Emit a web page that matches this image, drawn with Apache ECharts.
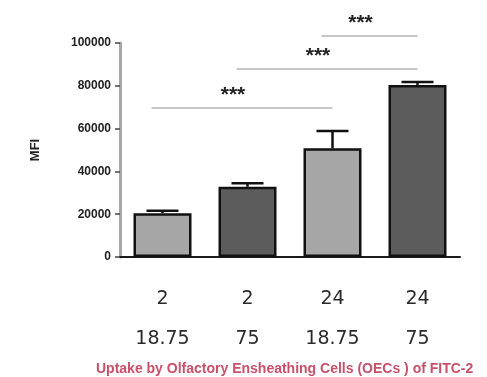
<!DOCTYPE html>
<html>
<head>
<meta charset="utf-8">
<style>
  html, body { margin: 0; padding: 0; background: #fff; }
  #chart { width: 487px; height: 377px; }
</style>
<script src="https://cdn.jsdelivr.net/npm/echarts@6/dist/echarts.min.js"></script>
</head>
<body>
<div id="chart"></div>
<script>
// Incubation time (h) and concentration for each group
const hours = ['2', '2', '24', '24'];
const doses = ['18.75', '75', '18.75', '75'];
// Mean fluorescence intensity and upper error (SEM)
const mfi = [20500, 32800, 50800, 80400];
const mfiErr = [1100, 1700, 8100, 1400];
// Significance brackets: [from group, to group, height], with their labels
const brackets = [[0, 2, 69600], [1, 3, 87900], [2, 3, 103300]];
const bracketLabels = ['***', '***', '***'];
const yTicks = [0, 20000, 40000, 60000, 80000, 100000];
const caption = 'Uptake by Olfactory Ensheathing Cells (OECs ) of FITC-2';

const barColors = ['#a6a6a6', '#5c5c5c', '#a6a6a6', '#5c5c5c'];
const categories = hours.map((h, i) => h + '|' + doses[i]);

const chart = echarts.init(document.getElementById('chart'), null, { renderer: 'canvas' });

chart.setOption({
  backgroundColor: '#ffffff',
  animation: false,
  grid: { left: 120, right: 27, top: 43, bottom: 120, containLabel: false },
  title: {
    text: caption,
    left: 91,
    top: 357,
    textStyle: { color: '#c8506a', fontSize: 14, fontWeight: 'bold', fontFamily: 'Liberation Sans, Arial, sans-serif' }
  },
  xAxis: {
    type: 'category',
    data: categories,
    axisLine: { lineStyle: { color: '#1a1a1a', width: 2 } },
    axisTick: { alignWithLabel: true, length: 6, lineStyle: { color: '#333', width: 1.5 } },
    axisLabel: {
      margin: 22,
      formatter: v => {
        const [h, d] = v.split('|');
        return '{a|' + h + '}\n{b|' + d + '}';
      },
      rich: {
        a: { fontSize: 19, lineHeight: 40, color: '#2a2a2a', fontFamily: 'DejaVu Sans, sans-serif' },
        b: { fontSize: 19, lineHeight: 40, color: '#2a2a2a', fontFamily: 'DejaVu Sans, sans-serif' }
      }
    }
  },
  yAxis: {
    type: 'value',
    min: 0,
    max: yTicks[yTicks.length - 1],
    interval: yTicks[1] - yTicks[0],
    name: 'MFI',
    nameLocation: 'middle',
    nameRotate: 90,
    nameGap: 78,
    nameTextStyle: { fontSize: 13, fontWeight: 'bold', color: '#222', fontFamily: 'Liberation Sans, Arial, sans-serif' },
    splitLine: { show: false },
    axisLine: { show: true, lineStyle: { color: '#a8a8a8', width: 3 } },
    axisTick: { show: true, length: 5, lineStyle: { color: '#444', width: 1.5 } },
    axisLabel: {
      margin: 9,
      fontSize: 12,
      fontWeight: 'bold',
      color: '#222',
      fontFamily: 'Liberation Sans, Arial, sans-serif',
      formatter: v => String(v)
    }
  },
  series: [
    {
      type: 'bar',
      data: mfi.map((v, i) => ({ value: v, itemStyle: { color: barColors[i] } })),
      barWidth: 58,
      itemStyle: { borderColor: '#111', borderWidth: 2.5 },
      z: 2
    },
    {
      // error bars: stem from bar top to cap
      type: 'custom',
      data: mfi.map((v, i) => [i, v, v + mfiErr[i]]),
      z: 3,
      renderItem: (params, api) => {
        const top = api.coord([api.value(0), api.value(1)]);
        const up = api.coord([api.value(0), api.value(2)]);
        const half = 16;
        return {
          type: 'group',
          children: [
            { type: 'line', shape: { x1: top[0], y1: top[1], x2: up[0], y2: up[1] }, style: { stroke: '#111', lineWidth: 2.5 } },
            { type: 'line', shape: { x1: up[0] - half, y1: up[1], x2: up[0] + half, y2: up[1] }, style: { stroke: '#111', lineWidth: 2.5 } }
          ]
        };
      }
    },
    {
      // significance brackets with star labels
      type: 'custom',
      data: brackets,
      z: 4,
      renderItem: (params, api) => {
        const a = api.coord([api.value(0), api.value(2)]);
        const b = api.coord([api.value(1), api.value(2)]);
        const x1 = a[0] - 11, x2 = b[0];
        const mid = (x1 + x2) / 2 - 9;
        return {
          type: 'group',
          children: [
            { type: 'line', shape: { x1: x1, y1: a[1], x2: x2, y2: b[1] }, style: { stroke: '#b4b4b4', lineWidth: 1.5 } },
            {
              type: 'text',
              style: {
                x: mid, y: a[1] - 13,
                text: bracketLabels[params.dataIndex],
                fill: '#222',
                font: 'bold 21px Liberation Sans, Arial, sans-serif',
                textAlign: 'center', textVerticalAlign: 'middle'
              }
            }
          ]
        };
      }
    }
  ]
});
</script>
</body>
</html>
